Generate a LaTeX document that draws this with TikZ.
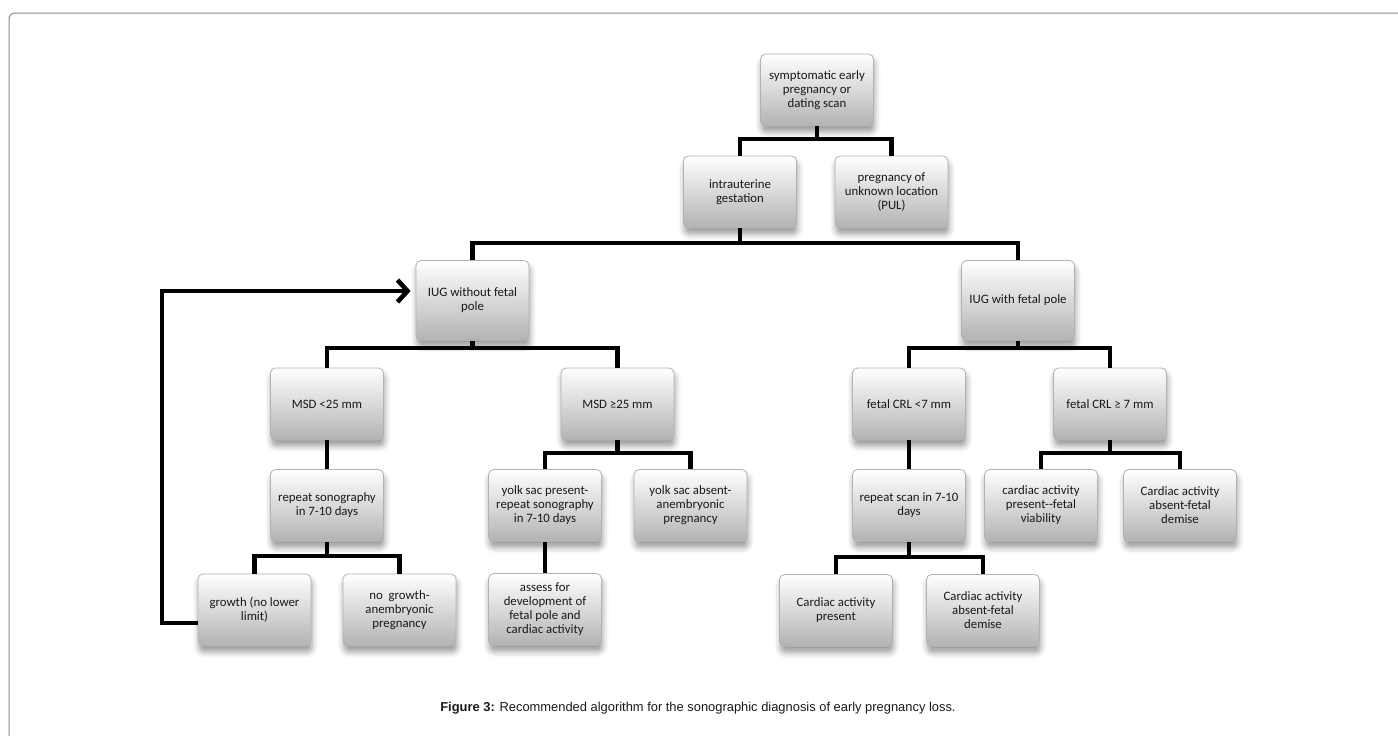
\documentclass[tikz,border=0pt]{standalone}
\usepackage{fontspec}
\setmainfont{Carlito}
\newfontfamily\capfont{Liberation Sans}
\usetikzlibrary{arrows.meta,shadows.blur}
\tikzset{
  box/.style={rectangle, rounded corners=5pt, draw=black!30, line width=0.8pt,
    top color=white, middle color=white, bottom color=black!30,
    minimum width=113pt, minimum height=72pt, inner sep=2pt,
    align=center, text=black!90,
    font=\fontsize{12.8pt}{14pt}\selectfont,
    blur shadow={shadow xshift=1pt, shadow yshift=-6pt, shadow blur radius=6pt, shadow opacity=40}},
  tall/.style={minimum height=80pt},
  conn/.style={line width=4.6pt, black, line join=miter, line cap=butt},
}
\begin{document}
\begin{tikzpicture}[x=1pt,y=-1pt]
\useasboundingbox (0,0) rectangle (1398,736);
% frame
\draw[black!45, line width=1pt, rounded corners=6pt] (1398,13) -- (9,13) -- (9,736);

% nodes
\node[box] (A) at (817,90) {symptomatic early\\pregnancy or\\dating scan};
\node[box] (B) at (740,192) {intrauterine\\gestation};
\node[box] (C) at (891.5,192) {pregnancy of\\unknown location\\(PUL)};
\node[box,tall] (D) at (472.5,300.5) {IUG without fetal\\pole};
\node[box,tall] (E) at (1018,300.5) {IUG with fetal pole};
\node[box] (F) at (327,404) {MSD <25 mm};
\node[box] (G) at (617.5,404) {MSD ≥25 mm};
\node[box] (N) at (909,404) {fetal CRL <7 mm};
\node[box] (O) at (1110,404) {fetal CRL ≥ 7 mm};
\node[box] (K) at (327,505.5) {repeat sonography\\in 7-10 days};
\node[box] (H) at (545,505.5) {yolk sac present-\\repeat sonography\\in 7-10 days};
\node[box] (I) at (690.5,505.5) {yolk sac absent-\\anembryonic\\pregnancy};
\node[box] (R) at (909,505.5) {repeat scan in 7-10\\days};
\node[box] (P) at (1041,505.5) {cardiac activity\\present-{}-fetal\\viability};
\node[box] (Q) at (1180,505.5) {Cardiac activity\\absent-fetal\\demise};
\node[box] (L) at (254.5,610) {growth (no lower\\limit)};
\node[box] (M) at (399.5,610) {no\ \ growth-\\anembryonic\\pregnancy};
\node[box] (J) at (545,609.5) {assess for\\development of\\fetal pole and\\cardiac activity};
\node[box] (S) at (836,610.5) {Cardiac activity\\present};
\node[box] (T) at (983,610.5) {Cardiac activity\\absent-fetal\\demise};

% bar levels
\coordinate (yA) at (0,139);
\coordinate (yB) at (0,243);
\coordinate (yD) at (0,348);
\coordinate (yG) at (0,453);
\coordinate (yK) at (0,556);
\coordinate (yR) at (0,557);
\coordinate (yLoop) at (0,623);
\coordinate (yArr) at (0,291);
\coordinate (xLoop) at (162,0);

% connectors
\draw[conn] (A.south) -- (A.south |- yA);
\draw[conn] (B.north) -- (B.north |- yA) -- (C.north |- yA) -- (C.north);

\draw[conn] (B.south) -- (B.south |- yB);
\draw[conn] (D.north) -- (D.north |- yB) -- (E.north |- yB) -- (E.north);

\draw[conn] (D.south) -- (D.south |- yD);
\draw[conn] (F.north) -- (F.north |- yD) -- (G.north |- yD) -- (G.north);
\draw[conn] (E.south) -- (E.south |- yD);
\draw[conn] (N.north) -- (N.north |- yD) -- (O.north |- yD) -- (O.north);

\draw[conn] (F.south) -- (K.north);
\draw[conn] (G.south) -- (G.south |- yG);
\draw[conn] (H.north) -- (H.north |- yG) -- (I.north |- yG) -- (I.north);
\draw[conn] (N.south) -- (R.north);
\draw[conn] (O.south) -- (O.south |- yG);
\draw[conn] (P.north) -- (P.north |- yG) -- (Q.north |- yG) -- (Q.north);

\draw[conn] (K.south) -- (K.south |- yK);
\draw[conn] (L.north) -- (L.north |- yK) -- (M.north |- yK) -- (M.north);
\draw[conn] (H.south) -- (J.north);
\draw[conn] (R.south) -- (R.south |- yR);
\draw[conn] (S.north) -- (S.north |- yR) -- (T.north |- yR) -- (T.north);

% loop back arrow
\draw[conn, -{Straight Barb[length=10pt,width=22pt]}, shorten >=5pt]
  (L.west |- yLoop) -- (xLoop |- yLoop) -- (xLoop |- yArr) -- (D.west |- yArr);

% caption
\node[font=\capfont\fontsize{12.9pt}{15pt}\selectfont, text=black!90] (cap) at (698,708)
  {\textbf{Figure 3:} Recommended algorithm for the sonographic diagnosis of early pregnancy loss.};
\end{tikzpicture}
\end{document}
